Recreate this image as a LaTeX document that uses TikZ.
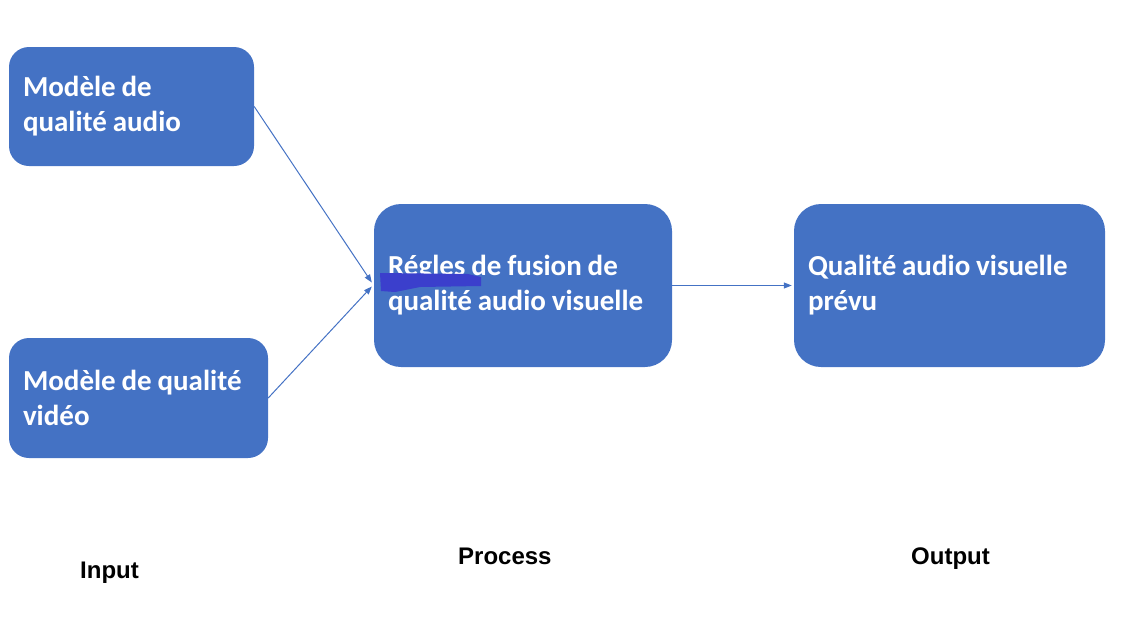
\documentclass[tikz,border=0pt]{standalone}
\usepackage{fontspec}
\newfontfamily\boxfont{Carlito}
\newfontfamily\labelfont{Liberation Sans}
\usetikzlibrary{arrows.meta}
\definecolor{boxblue}{HTML}{4472C4}
\definecolor{markblue}{HTML}{3B3FCC}
\newcommand\tightspaces{\spaceskip=0.2em\relax}
\tikzset{
  block/.style={rectangle, fill=boxblue, text=white, align=left,
    inner xsep=14pt, inner ysep=0pt,
    font=\boxfont\bfseries\fontsize{29}{35}\selectfont,
    execute at begin node=\tightspaces},
  link/.style={draw=boxblue, line width=1pt,
    -{Triangle[length=8pt,width=6pt]}},
  stage/.style={anchor=base west, inner sep=0pt,
    font=\labelfont\bfseries\fontsize{24}{28}\selectfont}
}
\begin{document}
\begin{tikzpicture}[x=1pt,y=-1pt]
  \useasboundingbox (0,0) rectangle (1123,624);

  % input models
  \node[block, rounded corners=20pt, minimum height=119pt, text width=217pt]
    (audio) at (131.5,106.5) {Modèle de\\qualité audio};
  \node[block, rounded corners=20pt, minimum height=120pt, text width=231pt]
    (video) at (138.5,398) {Modèle de qualité\\vidéo};

  % fusion step and result
  \node[block, rounded corners=27pt, minimum height=163pt, text width=270pt]
    (fusion) at (523,285.5) {Régles de fusion de\\qualité audio visuelle};
  \node[block, rounded corners=27pt, minimum height=163pt, text width=283pt]
    (result) at (949.5,285.5) {Qualité audio visuelle\\prévu};

  % highlighter stroke over the first word
  \fill[markblue] (380,273) -- (468,274) -- (481,277) -- (481,286)
    -- (420,287) -- (395,292) -- (381,291) -- cycle;

  % connectors
  \draw[link] (audio.east) -- ([yshift=3pt,xshift=-2pt]fusion.west);
  \draw[link] (video.east) -- ([yshift=-1pt,xshift=-2pt]fusion.west);
  \draw[link] (fusion.east) -- ([xshift=-2pt]result.west);

  % stage labels
  \node[stage] (lin) at (80,578) {Input};
  \node[stage] (lproc) at (458,564) {Process};
  \node[stage] (lout) at (911,564) {Output};
\end{tikzpicture}
\end{document}
